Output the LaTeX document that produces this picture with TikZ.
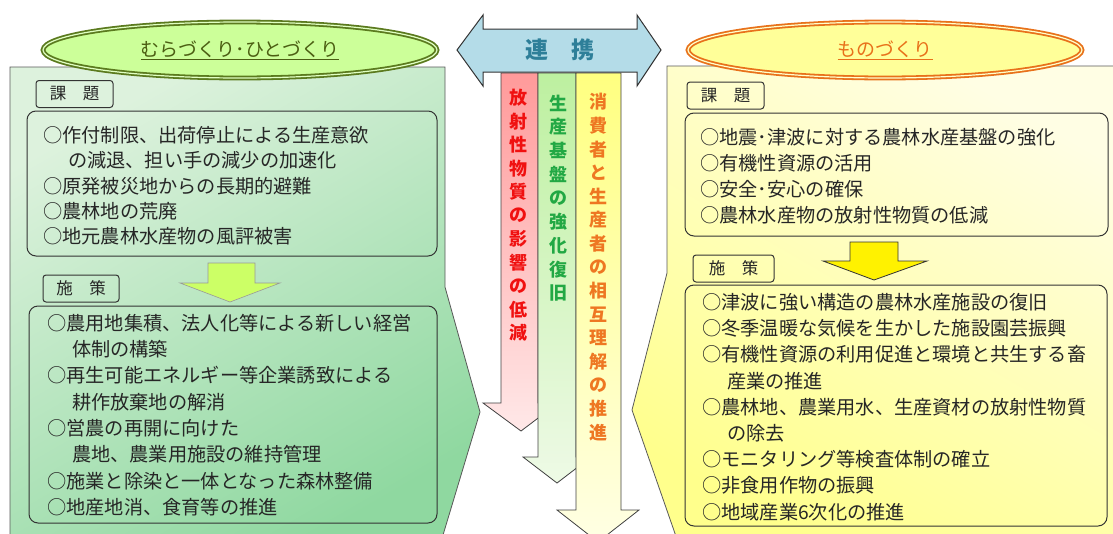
\documentclass[tikz,border=0pt]{standalone}
\usepackage{fontspec}
\setmainfont{Noto Sans CJK JP}
\usetikzlibrary{shapes.geometric}

\definecolor{mintTop}{HTML}{DDF2DD}
\definecolor{mintBot}{HTML}{8FD8A0}
\definecolor{creamTop}{HTML}{FFFEE4}
\definecolor{creamBot}{HTML}{FFFF8C}
\definecolor{oliveLine}{HTML}{5B7A1E}
\definecolor{oliveText}{HTML}{4B5E12}
\definecolor{limeFill}{HTML}{CCFF99}
\definecolor{orangeLine}{HTML}{E8711A}
\definecolor{lemonFill}{HTML}{FFFF99}
\definecolor{skyFill}{HTML}{B4DCE8}
\definecolor{tealText}{HTML}{2E7F99}
\definecolor{pinkTop}{HTML}{FF9A9A}
\definecolor{pinkBot}{HTML}{FFE8E8}
\definecolor{leafTop}{HTML}{BDF0A0}
\definecolor{leafBot}{HTML}{EEFAE6}
\definecolor{sunTop}{HTML}{FFFF80}
\definecolor{sunBot}{HTML}{FFFFE4}
\definecolor{redText}{HTML}{F01010}
\definecolor{greenText}{HTML}{22A844}
\definecolor{orangeText}{HTML}{EE7722}
\definecolor{arrowLime}{HTML}{CCFF66}

\tikzset{
  panelline/.style={draw=black!65, line width=0.8pt},
  listbox/.style={draw=black!80, line width=1pt, rounded corners=9pt},
  tagbox/.style={draw=black!80, line width=1pt, rounded corners=3pt,
    minimum height=27pt, inner sep=0pt, text=black!85,
    font=\fontsize{16.5}{18}\selectfont},
  item/.style={anchor=west, inner sep=0pt, text=black!85,
    font=\fontsize{19.2}{22}\selectfont},
  vtext/.style={inner sep=0pt, font=\fontsize{18}{20}\selectfont\bfseries},
  titleoval/.style={ellipse, line width=1.8pt, double distance=1.2pt,
    minimum width=394pt, minimum height=56pt,
    font=\fontsize{19}{22}\selectfont},
  downarrow/.style={draw=black!75, line width=0.8pt}
}

\begin{document}
\begin{tikzpicture}[x=1pt,y=-1pt]
  \clip (0,0) rectangle (1113,533);

  % --- 左パネル ---
  \draw[panelline, top color=mintTop, bottom color=mintBot, shading angle=30]
    (10,67) -- (445,67) -- (445,287) -- (480,412) -- (440,545) -- (10,545) -- cycle;

  % --- 右パネル ---
  \draw[panelline, top color=creamTop, bottom color=creamBot, shading angle=-30]
    (667,66) -- (1125,66) -- (1125,545) -- (679,545) -- (632,410) -- (667,273) -- cycle;

  % --- 中央の矢印 ---
  \draw[downarrow, top color=pinkTop, bottom color=pinkBot]
    (501,73) -- (538,73) -- (538,403) -- (558,403) -- (521,431)
    -- (483,403) -- (501,403) -- cycle;
  \draw[downarrow, top color=leafTop, bottom color=leafBot]
    (538,73) -- (576,73) -- (576,457) -- (591,457) -- (557,483)
    -- (523,457) -- (538,457) -- cycle;
  \draw[downarrow, top color=sunTop, bottom color=sunBot]
    (576,73) -- (621,73) -- (621,510) -- (639,510) -- (598,542)
    -- (557,510) -- (576,510) -- cycle;

  % 連携
  \draw[draw=black!80, line width=1pt, fill=skyFill]
    (457,50) -- (483,15) -- (483,29) -- (637,29) -- (637,15) -- (661,50)
    -- (637,86) -- (637,72) -- (483,72) -- (483,86) -- cycle;
  \node[text=tealText, font=\fontsize{23}{26}\selectfont\bfseries] (renkei) at (560,50) {連　携};

  % 縦書き
  \foreach \ch [count=\i from 0] in {放,射,性,物,質,の,影,響,の,低,減}
    \node[vtext, text=redText] (rad\i) at (518,98+\i*23.5) {\ch};
  \foreach \ch [count=\i from 0] in {生,産,基,盤,の,強,化,復,旧}
    \node[vtext, text=greenText] (base\i) at (558,103+\i*23.75) {\ch};
  \foreach \ch [count=\i from 0] in {消,費,者,と,生,産,者,の,相,互,理,解,の,推,進}
    \node[vtext, text=orangeText] (trust\i) at (598,102+\i*23.6) {\ch};

  % --- 左：むらづくり・ひとづくり ---
  \node[titleoval, draw=oliveLine, double=limeFill!60!white, fill=limeFill, text=oliveText]
    (titleL) at (240,50) {\underline{むらづくり･ひとづくり}};

  \node[tagbox, minimum width=77pt] (kadaiTagL) at (74.5,94) {課　題};
  \draw[listbox] (27,111) rectangle (437,256);
  \foreach \s [count=\i from 0] in {
      ○作付制限、出荷停止による生産意欲,
      \hspace*{1.3em}の減退、担い手の減少の加速化,
      ○原発被災地からの長期的避難,
      ○農林地の荒廃,
      ○地元農林水産物の風評被害}
    \node[item] (kadaiL\i) at (43,135+\i*25.4) {\s};

  \draw[draw=black!40, line width=0.6pt, fill=arrowLime]
    (208,263) -- (255,263) -- (255,283) -- (280,283) -- (230,302)
    -- (180,283) -- (208,283) -- cycle;

  \node[tagbox, minimum width=76pt] (sesakuTagL) at (81,288.5) {施　策};
  \draw[listbox] (29,306) rectangle (437,523);
  \foreach \s [count=\i from 0] in {
      ○農用地集積、法人化等による新しい経営,
      \hspace*{1.3em}体制の構築,
      ○再生可能エネルギー等企業誘致による,
      \hspace*{1.3em}耕作放棄地の解消,
      ○営農の再開に向けた,
      \hspace*{1.3em}農地、農業用施設の維持管理,
      ○施業と除染と一体となった森林整備,
      ○地産地消、食育等の推進}
    \node[item] (sesakuL\i) at (47,323+\i*26.3) {\s};

  % --- 右：ものづくり ---
  \node[titleoval, draw=orangeLine, double=lemonFill!50!white, fill=lemonFill, text=orangeLine]
    (titleR) at (885,50) {\underline{ものづくり}};

  \node[tagbox, minimum width=77pt] (kadaiTagR) at (725.5,95.5) {課　題};
  \draw[listbox] (685,113) rectangle (1108,236);
  \foreach \s [count=\i from 0] in {
      ○地震･津波に対する農林水産基盤の強化,
      ○有機性資源の活用,
      ○安全･安心の確保,
      ○農林水産物の放射性物質の低減}
    \node[item] (kadaiR\i) at (700,137+\i*26) {\s};

  \draw[draw=black!80, line width=0.8pt, fill=yellow]
    (850,242) -- (898,242) -- (898,261) -- (927,261) -- (874,280)
    -- (823,261) -- (850,261) -- cycle;

  \node[tagbox, minimum width=81pt] (sesakuTagR) at (733.5,268.5) {施　策};
  \draw[listbox] (685,285) rectangle (1107,526);
  \foreach \s [count=\i from 0] in {
      ○津波に強い構造の農林水産施設の復旧,
      ○冬季温暖な気候を生かした施設園芸振興,
      ○有機性資源の利用促進と環境と共生する畜,
      \hspace*{1.3em}産業の推進,
      ○農林地、農業用水、生産資材の放射性物質,
      \hspace*{1.3em}の除去,
      ○モニタリング等検査体制の確立,
      ○非食用作物の振興,
      ○地域産業6次化の推進}
    \node[item] (sesakuR\i) at (702,302+\i*26.25) {\s};
\end{tikzpicture}
\end{document}
